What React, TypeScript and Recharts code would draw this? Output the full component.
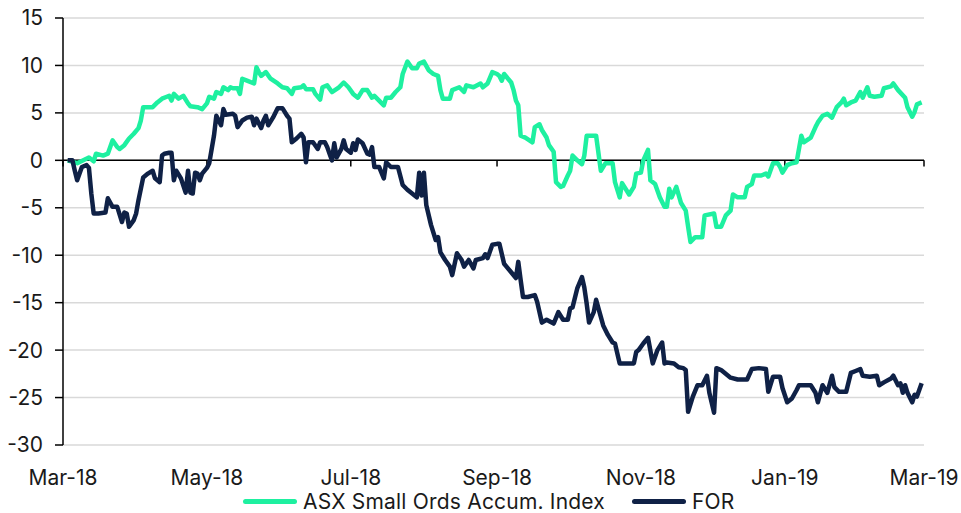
import { LineChart, Line, XAxis, YAxis, CartesianGrid, ReferenceLine } from "recharts"

// days counted from 1 Mar 2018
const monthTickDays = [0, 61, 122, 184, 245, 306, 365]
const monthLabels = ["Mar-18", "May-18", "Jul-18", "Sep-18", "Nov-18", "Jan-19", "Mar-19"]
const yTicks = [-30, -25, -20, -15, -10, -5, 0, 5, 10, 15]

const indexDays = [
  2, 6, 11, 13, 14, 17, 19, 21, 23, 24,
  26, 28, 30, 32, 33, 34, 36, 38, 40, 42,
  44, 45, 46, 47, 49, 51, 53, 54, 57, 59,
  61, 62, 64, 65, 67, 68, 70, 71, 72, 74,
  75, 76, 78, 81, 82, 83, 84, 86, 88, 91,
  93, 95, 97, 98, 101, 102, 103, 106, 107, 109,
  110, 112, 114, 117, 119, 121, 123, 125, 127, 129,
  131, 132, 134, 136, 137, 139, 141, 143, 144, 146,
  148, 150, 151, 153, 155, 157, 159, 160, 161, 164,
  165, 168, 170, 171, 174, 177, 178, 180, 182, 184,
  185, 186, 187, 190, 191, 192, 193, 194, 196, 199,
  200, 202, 203, 205, 206, 208, 209, 211, 212, 214,
  215, 216, 218, 220, 221, 222, 226, 228, 230, 233,
  234, 236, 237, 240, 242, 243, 245, 246, 248, 249,
  251, 253, 255, 256, 257, 258, 260, 262, 264, 265,
  266, 268, 271, 272, 276, 277, 279, 281, 283, 284,
  286, 289, 290, 292, 293, 296, 298, 299, 301, 303,
  304, 305, 307, 309, 311, 312, 313, 314, 317, 319,
  320, 322, 324, 326, 328, 330, 331, 332, 334, 336,
  338, 339, 341, 342, 344, 347, 348, 351, 352, 354,
  357, 358, 360, 361, 362, 364,
]
const indexValues = [
  0, -0.3, 0.3, -0.1, 0.7, 0.5, 0.7, 2.1, 1.4, 1.2,
  1.6, 2.3, 2.8, 3.4, 4.2, 5.6, 5.6, 5.6, 6.1, 6.5,
  6.7, 6.8, 6.3, 7.0, 6.5, 6.8, 6.0, 5.7, 5.6, 5.4,
  6.0, 6.7, 6.5, 7.2, 7.0, 7.7, 7.4, 7.7, 7.6, 7.6,
  7.0, 8.6, 8.4, 8.1, 9.8, 9.3, 8.9, 9.3, 8.6, 8.1,
  7.7, 7.6, 7.0, 7.6, 7.7, 7.9, 7.5, 7.5, 7.0, 6.4,
  7.7, 7.9, 7.2, 7.7, 8.2, 7.7, 7.0, 6.6, 7.4, 7.4,
  6.6, 6.8, 6.3, 5.8, 6.6, 6.6, 7.2, 7.7, 9.1, 10.4,
  9.7, 9.7, 10.2, 10.4, 9.5, 9.1, 8.9, 7.4, 6.5, 6.5,
  7.4, 7.7, 7.2, 7.9, 7.7, 8.1, 7.7, 8.1, 9.3, 9.1,
  8.9, 8.4, 9.1, 8.2, 7.4, 6.3, 5.8, 2.6, 2.4, 1.9,
  3.5, 3.8, 3.2, 2.4, 1.6, 0.9, -2.3, -2.8, -2.7, -1.6,
  -1.1, 0.5, 0, -0.4, 0.5, 2.6, 2.6, -1.1, -0.3, -0.3,
  -2.3, -3.9, -2.4, -3.6, -2.8, -1.4, -1.3, 0, 1.1, -2.1,
  -2.5, -3.9, -4.9, -4.9, -3.0, -3.9, -2.8, -4.5, -5.3, -7.0,
  -8.6, -8.1, -8.1, -5.8, -5.6, -7.0, -7.0, -5.8, -5.3, -3.6,
  -3.9, -3.9, -2.8, -2.5, -1.6, -1.6, -1.4, -1.7, -0.3, -0.3,
  -0.7, -1.3, -0.5, -0.3, -0.2, 1.2, 2.6, 1.9, 2.4, 3.5,
  4.0, 4.7, 4.9, 4.5, 5.6, 6.1, 6.5, 5.8, 6.1, 6.3,
  7.2, 6.6, 7.7, 6.8, 6.7, 6.8, 7.6, 7.8, 8.1, 7.4,
  6.6, 5.6, 4.6, 5.1, 5.9, 6.1,
]

const forDays = [
  2, 4, 5, 6, 8, 10, 11, 12, 13, 15,
  18, 19, 21, 23, 25, 26, 27, 28, 30, 31,
  32, 34, 36, 38, 39, 41, 42, 43, 45, 46,
  47, 48, 50, 52, 53, 54, 55, 56, 57, 58,
  59, 61, 62, 64, 65, 67, 68, 69, 72, 73,
  74, 76, 78, 80, 81, 82, 84, 85, 86, 87,
  89, 91, 93, 95, 96, 97, 99, 101, 102, 103,
  104, 106, 108, 109, 111, 112, 113, 114, 115, 116,
  118, 119, 120, 122, 123, 124, 125, 127, 129, 130,
  131, 132, 134, 136, 137, 139, 142, 144, 146, 148,
  150, 151, 152, 153, 154, 156, 158, 159, 160, 162,
  164, 165, 167, 169, 170, 172, 174, 175, 178, 179,
  180, 182, 184, 185, 187, 188, 190, 192, 193, 194,
  195, 197, 200, 201, 203, 205, 208, 210, 212, 214,
  215, 216, 218, 220, 221, 222, 223, 225, 226, 228,
  229, 231, 233, 234, 236, 238, 242, 243, 244, 246,
  248, 250, 252, 254, 255, 256, 259, 261, 263, 264,
  265, 267, 269, 271, 273, 274, 276, 277, 279, 283,
  286, 290, 292, 295, 298, 299, 301, 304, 305, 307,
  309, 311, 312, 317, 319, 320, 322, 324, 326, 327,
  329, 332, 334, 336, 338, 339, 342, 345, 346, 348,
  351, 352, 354, 355, 356, 357, 358, 360, 361, 362,
  364,
]
const forValues = [
  0, 0, -1.1, -2.1, -0.7, -0.5, -0.8, -3.5, -5.6, -5.6,
  -5.5, -4.0, -4.9, -4.9, -6.5, -5.5, -5.6, -7.0, -6.3, -5.6,
  -4.2, -1.8, -1.4, -1.1, -1.9, -2.3, 0.5, 0.7, 0.8, 0.8,
  -2.1, -1.1, -1.9, -3.4, -1.1, -3.4, -3.5, -1.3, -1.4, -2.1,
  -1.4, -0.8, -0.3, 2.6, 4.7, 3.7, 5.4, 4.8, 4.9, 4.7,
  3.5, 4.2, 4.5, 4.6, 3.7, 4.4, 3.4, 4.2, 4.7, 3.7,
  4.5, 5.5, 5.5, 4.7, 4.4, 1.9, 2.3, 2.8, 2.4, -0.2,
  1.9, 1.9, 1.2, 1.9, 1.9, 1.4, 0.7, 0, 1.8, 0.3,
  1.2, 2.1, 1.2, 0.8, 1.8, 1.1, 2.2, 1.8, 0.7, 0.6,
  1.4, -0.7, -0.7, -1.9, -0.2, -0.7, -0.7, -2.6, -3.1, -3.5,
  -3.9, -1.3, -3.7, -1.3, -4.7, -6.8, -8.4, -8.1, -9.7, -10.5,
  -11.2, -12.1, -9.8, -10.5, -11.2, -10.5, -11.4, -10.5, -10.3, -9.9,
  -10.3, -8.9, -8.8, -8.8, -10.9, -11.2, -11.8, -12.4, -10.7, -12.6,
  -14.4, -14.4, -14.2, -14.9, -17.1, -16.8, -17.2, -16.0, -16.8, -16.8,
  -15.6, -15.5, -13.5, -12.3, -13.4, -15.1, -17.1, -16.0, -14.7, -16.5,
  -17.4, -18.4, -19.2, -19.3, -21.4, -21.4, -21.4, -20.2, -20.0, -19.3,
  -18.7, -21.4, -20.0, -19.2, -21.4, -21.3, -21.4, -21.8, -21.9, -22.1,
  -26.5, -24.9, -23.7, -23.7, -22.7, -24.5, -26.6, -21.9, -22.1, -22.9,
  -23.1, -23.1, -22.0, -21.9, -22.0, -24.4, -22.8, -22.8, -24.0, -25.5,
  -25.1, -24.2, -23.7, -23.7, -24.5, -25.5, -23.7, -24.5, -22.7, -23.9,
  -24.4, -24.4, -22.4, -22.2, -22.0, -22.7, -22.8, -22.7, -23.7, -23.4,
  -23.0, -22.7, -23.7, -23.5, -24.5, -23.7, -24.5, -25.5, -24.7, -24.9,
  -23.5,
]

const GREEN = "#1ef0a0"
const NAVY = "#0f2146"
const FONT = "Inter, 'Liberation Sans', sans-serif"

const indexData = indexDays.map((day, i) => ({ day, value: indexValues[i] }))
const forData = forDays.map((day, i) => ({ day, value: forValues[i] }))

const tickStyle = { fontSize: 21, fill: "#1a1a1a", fontFamily: FONT }

function LegendItem({ color, label, left }: { color: string; label: string; left: number }) {
  return (
    <div style={{ position: "absolute", left, top: 489, display: "flex", alignItems: "center", height: 24 }}>
      <div style={{ width: 54, height: 5, borderRadius: 3, background: color, marginRight: 6 }} />
      <span style={{ fontFamily: FONT, fontSize: 21, letterSpacing: 0.2, color: "#1a1a1a", whiteSpace: "nowrap" }}>
        {label}
      </span>
    </div>
  )
}

export default function App() {
  // pinned to the page corner so the chart can use the whole window
  return (
    <div style={{ position: "absolute", top: 0, left: 0, width: 961, height: 513 }}>
      <LineChart width={961} height={513} margin={{ top: 18, right: 37, left: 8, bottom: 32 }}>
        <CartesianGrid vertical={false} stroke="#d9d9d9" strokeWidth={1.5} />
        <XAxis
          type="number"
          dataKey="day"
          domain={[0, 365]}
          ticks={monthTickDays}
          tickFormatter={(d: number) => monthLabels[monthTickDays.indexOf(d)]}
          axisLine={false}
          tickLine={false}
          tickSize={0}
          tickMargin={25}
          height={36}
          tick={tickStyle}
          interval={0}
        />
        <YAxis
          type="number"
          domain={[-30, 15]}
          ticks={yTicks}
          width={55}
          axisLine={{ stroke: "#000", strokeWidth: 1.5 }}
          tickLine={{ stroke: "#000", strokeWidth: 1.5 }}
          tickSize={8}
          tickMargin={12}
          tick={tickStyle}
          interval={0}
        />
        <ReferenceLine y={0} stroke="#000" strokeWidth={1.5} />
        {monthTickDays.map((d) => (
          <ReferenceLine
            key={d}
            segment={[{ x: d, y: 0 }, { x: d, y: -0.65 }]}
            stroke="#000"
            strokeWidth={1.5}
          />
        ))}
        <Line
          data={indexData}
          dataKey="value"
          type="linear"
          stroke={GREEN}
          strokeWidth={4.5}
          strokeLinejoin="round"
          dot={false}
          isAnimationActive={false}
        />
        <Line
          data={forData}
          dataKey="value"
          type="linear"
          stroke={NAVY}
          strokeWidth={4.5}
          strokeLinejoin="round"
          dot={false}
          isAnimationActive={false}
        />
      </LineChart>
      <LegendItem color={GREEN} label="ASX Small Ords Accum. Index" left={243} />
      <LegendItem color={NAVY} label="FOR" left={632} />
    </div>
  )
}
